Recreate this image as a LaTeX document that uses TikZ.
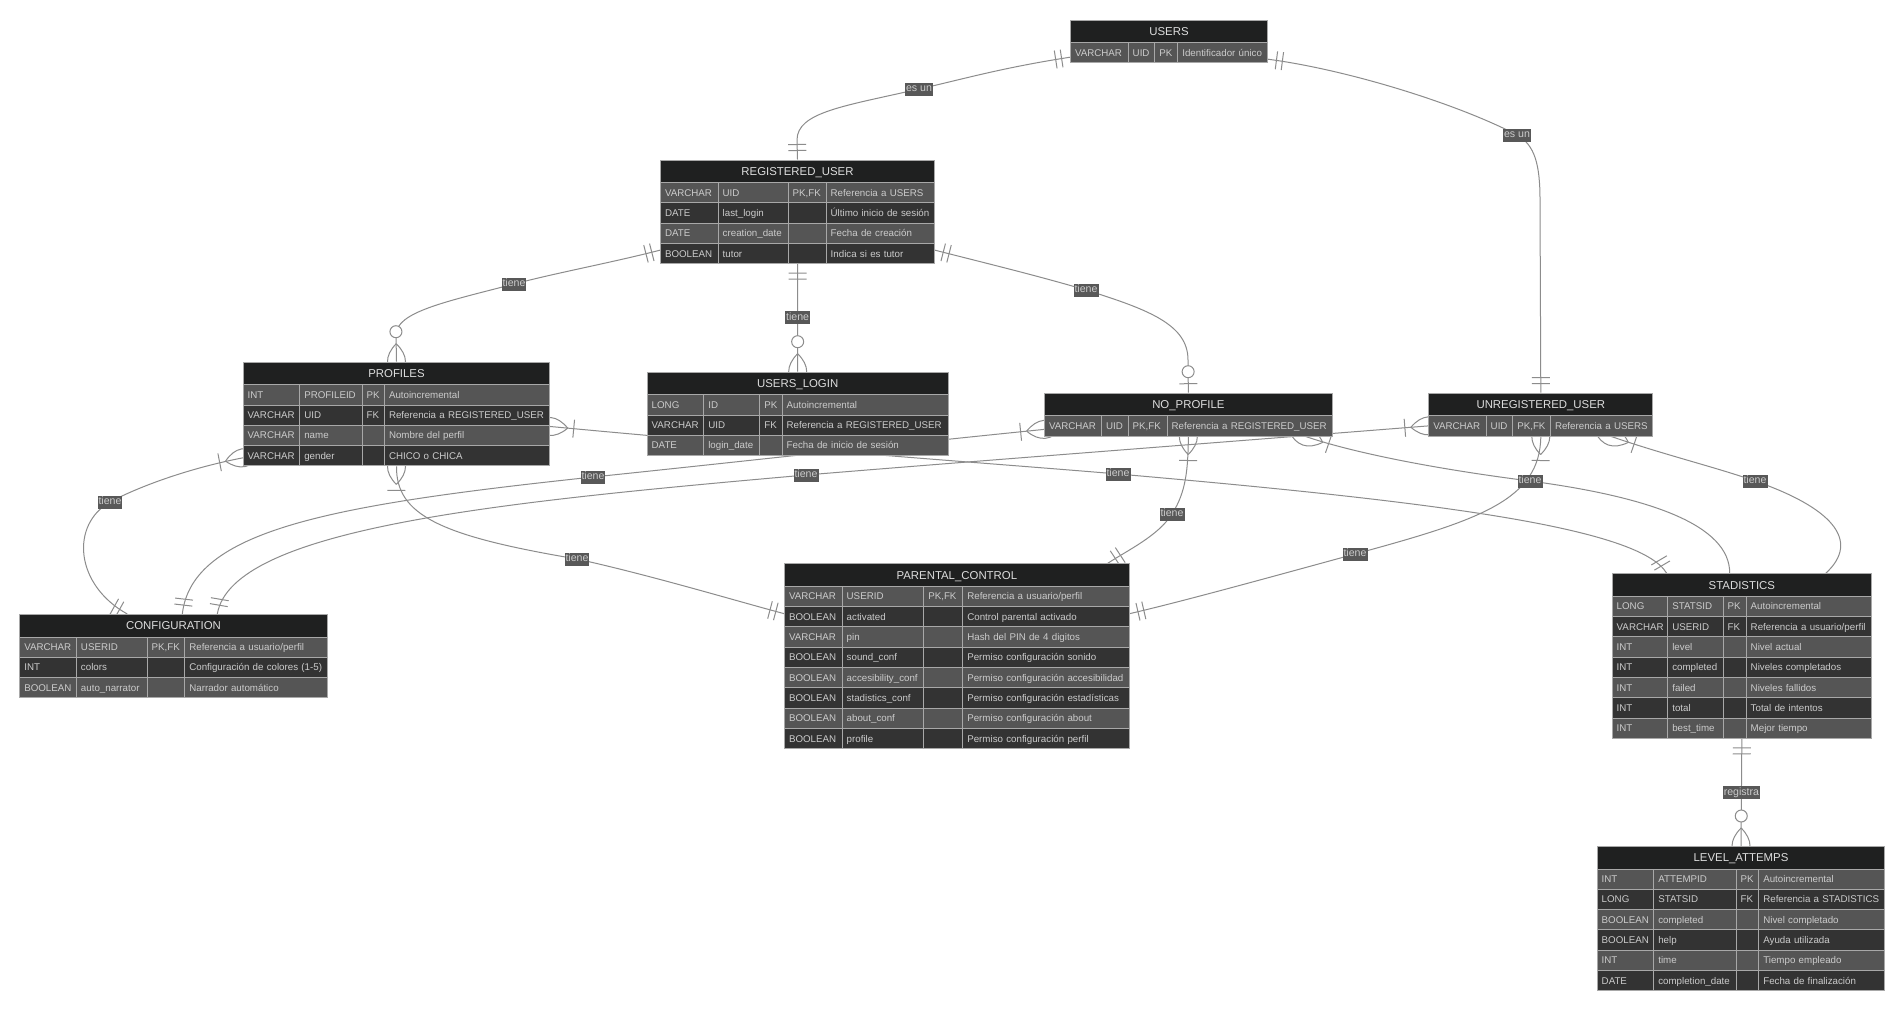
\documentclass[tikz,border=0pt]{standalone}
\usepackage{fontspec}
\setmainfont{Liberation Sans}
\usetikzlibrary{matrix,backgrounds,decorations.markings}

\definecolor{erhead}{HTML}{1F2020}
\definecolor{erodd}{HTML}{555555}
\definecolor{ereven}{HTML}{333333}
\definecolor{erborder}{HTML}{A8A8A8}
\definecolor{ertext}{HTML}{CCCCCC}
\definecolor{ertitletext}{HTML}{DDDDDD}
\definecolor{erline}{HTML}{8C8C8C}
\definecolor{erlabel}{HTML}{585858}

\tikzset{
  ertitle/.style={draw=erborder, fill=erhead, text=ertitletext, line width=1pt,
    font=\fontsize{11.4}{13}\selectfont, minimum height=22.5pt, inner sep=0pt,
    text height=8.3pt, text depth=0pt, anchor=north west},
  ertable/.style={matrix of nodes, nodes in empty cells, anchor=north west,
    inner sep=0pt, outer sep=0pt, row sep=-1pt, column sep=-1pt,
    nodes={draw=erborder, line width=1pt, text=ertext, font=\fontsize{9.75}{11}\selectfont,
      align=left, inner xsep=4.5pt, inner ysep=5.65pt, text height=8pt, text depth=1pt},
    every odd row/.style={nodes={fill=erodd}},
    every even row/.style={nodes={fill=ereven}}},
  cols/.style n args={4}{column 1/.style={nodes={text width=#1}},
    column 2/.style={nodes={text width=#2}}, column 3/.style={nodes={text width=#3}},
    column 4/.style={nodes={text width=#4}}},
  rel/.style={draw=erline, line width=1pt},
  lbl/.style={fill=erlabel, text=ertext, font=\fontsize{10.6}{12}\selectfont,
    inner xsep=1pt, inner ysep=1.5pt, text height=7.8pt, text depth=2.2pt},
  % marcas de cardinalidad
  oneS/.style={postaction={decorate, decoration={markings, mark=at position 0 with
    {\draw[erline, line width=1pt] (9pt,-9pt) -- (9pt,9pt) (15pt,-9pt) -- (15pt,9pt);}}}},
  oneE/.style={postaction={decorate, decoration={markings, mark=at position 1 with
    {\draw[erline, line width=1pt] (-9pt,-9pt) -- (-9pt,9pt) (-15pt,-9pt) -- (-15pt,9pt);}}}},
  manyS/.style={postaction={decorate, decoration={markings, mark=at position 0 with
    {\draw[erline, line width=1pt] (18pt,0pt) .. controls (6pt,12pt) and (-6pt,12pt) .. (-18pt,0pt)
       (18pt,0pt) .. controls (6pt,-12pt) and (-6pt,-12pt) .. (-18pt,0pt)
       (24pt,-9pt) -- (24pt,9pt);}}}},
  zmanyE/.style={postaction={decorate, decoration={markings, mark=at position 1 with
    {\draw[erline, line width=1pt] (-18pt,0pt) .. controls (-6pt,12pt) and (6pt,12pt) .. (18pt,0pt)
       (-18pt,0pt) .. controls (-6pt,-12pt) and (6pt,-12pt) .. (18pt,0pt);
     \filldraw[draw=erline, fill=white, line width=1pt] (-30pt,0pt) circle (6pt);}}}},
  zoneE/.style={postaction={decorate, decoration={markings, mark=at position 1 with
    {\draw[erline, line width=1pt] (-9pt,-9pt) -- (-9pt,9pt);
     \filldraw[draw=erline, fill=white, line width=1pt] (-21pt,0pt) circle (6pt);}}}}
}

\begin{document}
\begin{tikzpicture}[x=1pt, y=-1pt]
\useasboundingbox (0,0) rectangle (1904,1010);

% tabla USERS
\node[ertitle, minimum width=197pt] (users) at (1070,19.5) {USERS};
\matrix (usersR) [ertable, cols={48.7pt}{17.6pt}{14pt}{80.7pt}] at ([yshift=1pt]users.south west) {
  VARCHAR & UID & PK & Identificador único \\
};

% tabla REGISTERED_USER
\node[ertitle, minimum width=274pt] (reg) at (660,159.5) {REGISTERED\_USER};
\matrix (regR) [ertable, cols={48.7pt}{61pt}{29pt}{99.3pt}] at ([yshift=1pt]reg.south west) {
  VARCHAR & UID & PK,FK & Referencia a USERS \\
  DATE & last\_login & & Último inicio de sesión \\
  DATE & creation\_date & & Fecha de creación \\
  BOOLEAN & tutor & & Indica si es tutor \\
};

% tabla PROFILES
\node[ertitle, minimum width=306.6pt] (prof) at (242.7,361.7) {PROFILES};
\matrix (profR) [ertable, cols={47.6pt}{53.4pt}{13.3pt}{156.3pt}] at ([yshift=1pt]prof.south west) {
  INT & PROFILEID & PK & Autoincremental \\
  VARCHAR & UID & FK & Referencia a REGISTERED\_USER \\
  VARCHAR & name & & Nombre del perfil \\
  VARCHAR & gender & & CHICO o CHICA \\
};

% tabla USERS_LOGIN
\node[ertitle, minimum width=301pt] (login) at (646.7,371.7) {USERS\_LOGIN};
\matrix (loginR) [ertable, cols={47.6pt}{47pt}{13.4pt}{157pt}] at ([yshift=1pt]login.south west) {
  LONG & ID & PK & Autoincremental \\
  VARCHAR & UID & FK & Referencia a REGISTERED\_USER \\
  DATE & login\_date & & Fecha de inicio de sesión \\
};

% tabla NO_PROFILE
\node[ertitle, minimum width=287.7pt] (noprof) at (1044,392.7) {NO\_PROFILE};
\matrix (noprofR) [ertable, cols={48pt}{17.7pt}{30pt}{156pt}] at ([yshift=1pt]noprof.south west) {
  VARCHAR & UID & PK,FK & Referencia a REGISTERED\_USER \\
};

% tabla UNREGISTERED_USER
\node[ertitle, minimum width=224pt] (unreg) at (1428.3,392.7) {UNREGISTERED\_USER};
\matrix (unregR) [ertable, cols={48.4pt}{17.6pt}{28.7pt}{93.3pt}] at ([yshift=1pt]unreg.south west) {
  VARCHAR & UID & PK,FK & Referencia a USERS \\
};

% tabla CONFIGURATION
\node[ertitle, minimum width=307.4pt] (conf) at (19.3,614) {CONFIGURATION};
\matrix (confR) [ertable, cols={47.7pt}{61.7pt}{28.6pt}{133.4pt}] at ([yshift=1pt]conf.south west) {
  VARCHAR & USERID & PK,FK & Referencia a usuario/perfil \\
  INT & colors & & Configuración de colores (1-5) \\
  BOOLEAN & auto\_narrator & & Narrador automático \\
};

% tabla PARENTAL_CONTROL
\node[ertitle, minimum width=344.7pt] (parent) at (784,563.3) {PARENTAL\_CONTROL};
\matrix (parentR) [ertable, cols={48.7pt}{72.6pt}{30pt}{157.4pt}] at ([yshift=1pt]parent.south west) {
  VARCHAR & USERID & PK,FK & Referencia a usuario/perfil \\
  BOOLEAN & activated & & Control parental activado \\
  VARCHAR & pin & & Hash del PIN de 4 digitos \\
  BOOLEAN & sound\_conf & & Permiso configuración sonido \\
  BOOLEAN & accesibility\_conf & & Permiso configuración accesibilidad \\
  BOOLEAN & stadistics\_conf & & Permiso configuración estadísticas \\
  BOOLEAN & about\_conf & & Permiso configuración about \\
  BOOLEAN & profile & & Permiso configuración perfil \\
};

% tabla STADISTICS
\node[ertitle, minimum width=259.3pt] (stats) at (1611.7,573.3) {STADISTICS};
\matrix (statsR) [ertable, cols={46.6pt}{46.4pt}{14pt}{116.3pt}] at ([yshift=1pt]stats.south west) {
  LONG & STATSID & PK & Autoincremental \\
  VARCHAR & USERID & FK & Referencia a usuario/perfil \\
  INT & level & & Nivel actual \\
  INT & completed & & Niveles completados \\
  INT & failed & & Niveles fallidos \\
  INT & total & & Total de intentos \\
  INT & best\_time & & Mejor tiempo \\
};

% tabla LEVEL_ATTEMPS
\node[ertitle, minimum width=287.6pt] (attempts) at (1596.7,846) {LEVEL\_ATTEMPS};
\matrix (attemptsR) [ertable, cols={47.6pt}{73.4pt}{13.6pt}{117pt}] at ([yshift=1pt]attempts.south west) {
  INT & ATTEMPID & PK & Autoincremental \\
  LONG & STATSID & FK & Referencia a STADISTICS \\
  BOOLEAN & completed & & Nivel completado \\
  BOOLEAN & help & & Ayuda utilizada \\
  INT & time & & Tiempo empleado \\
  DATE & completion\_date & & Fecha de finalización \\
};

\begin{scope}[on background layer]
\fill[white] (0,0) rectangle (1904,1010);
% USERS - REGISTERED_USER
\draw[rel, oneS, oneE] ([yshift=-4.5pt]usersR-1-1.west) .. controls (1000,68) and (960,80) .. (919,89) coordinate (m1)
  .. controls (845,106) and (797,112) .. (797,140) -- (reg.north);
% USERS - UNREGISTERED_USER
\draw[rel, oneS, oneE] ([yshift=-6.5pt]usersR-1-4.east) .. controls (1350,70) and (1460,105) .. (1517,135) coordinate (m2)
  .. controls (1535,145) and (1540,165) .. (1540,200) -- (unreg.north);
% REGISTERED_USER - PROFILES
\draw[rel, oneS, zmanyE] ([yshift=3.5pt]regR-4-1.west) .. controls (610,263) and (560,272) .. (514,284) coordinate (m3)
  .. controls (445,302) and (396,312) .. (396,335) -- (prof.north);
% REGISTERED_USER - USERS_LOGIN
\draw[rel, oneS, zmanyE] (regR.south) -- coordinate[pos=0.5] (m4) (login.north);
% REGISTERED_USER - NO_PROFILE
\draw[rel, oneS, zoneE] ([yshift=3.5pt]regR-4-4.east) .. controls (985,263) and (1035,275) .. (1086,290) coordinate (m5)
  .. controls (1150,310) and (1188,325) .. (1188,360) -- (noprof.north);
% PROFILES - STADISTICS
\draw[rel, manyS, oneE] ([yshift=9pt]profR-3-4.east) .. controls (800,450) and (1000,464) .. (1118,474) coordinate (m6)
  .. controls (1440,502) and (1640,528) .. ([xshift=55pt]stats.north west);
% PROFILES - CONFIGURATION
\draw[rel, manyS, oneE] ([yshift=-2pt]profR-4-1.west) .. controls (190,468) and (140,486) .. (110,502) coordinate (m7)
  .. controls (70,525) and (75,585) .. ([xshift=108pt]conf.north west);
% PROFILES - PARENTAL_CONTROL
\draw[rel, manyS, oneE] (profR.south) .. controls (396,515) and (440,536) .. (577,559) coordinate (m8)
  .. controls (650,575) and (740,602) .. ([yshift=3pt]parentR-2-1.west);
% NO_PROFILE - CONFIGURATION
\draw[rel, manyS, oneE] ([yshift=-3.5pt]noprofR-1-1.west) .. controls (880,446) and (700,466) .. (593,477) coordinate (m9)
  .. controls (330,505) and (192,530) .. ([xshift=163pt]conf.north west);
% UNREGISTERED_USER - CONFIGURATION
\draw[rel, manyS, oneE] (unregR-1-1.west) .. controls (1200,444) and (950,463) .. (806,475) coordinate (m10)
  .. controls (500,502) and (232,528) .. ([xshift=198pt]conf.north west);
% NO_PROFILE - PARENTAL_CONTROL
\draw[rel, manyS, oneE] (noprofR.south) .. controls (1188,470) and (1186,492) .. (1172,514) coordinate (m11)
  .. controls (1158,536) and (1128,550) .. ([xshift=-22pt]parent.north east);
% NO_PROFILE - STADISTICS
\draw[rel, manyS, oneE] ([xshift=-27pt]noprofR.south east) .. controls (1345,450) and (1420,467) .. (1530,481) coordinate (m12)
  .. controls (1650,497) and (1730,525) .. ([xshift=118pt]stats.north west);
% UNREGISTERED_USER - PARENTAL_CONTROL
\draw[rel, manyS, oneE] (unregR.south) .. controls (1540,500) and (1480,520) .. (1355,554) coordinate (m13)
  .. controls (1260,580) and (1180,602) .. ([yshift=3pt]parentR-2-4.east);
% UNREGISTERED_USER - STADISTICS
\draw[rel, manyS, oneE] ([xshift=-42pt]unregR.south east) .. controls (1665,455) and (1715,467) .. (1755,481) coordinate (m14)
  .. controls (1830,507) and (1862,540) .. ([xshift=214pt]stats.north west);
% STADISTICS - LEVEL_ATTEMPS
\draw[rel, oneS, zmanyE] (statsR.south) -- coordinate[pos=0.5] (m15) (attempts.north);

% etiquetas de las relaciones
\node[lbl] (esun1) at (m1) {es un};
\node[lbl] (esun2) at (m2) {es un};
\node[lbl] (tiene1) at (m3) {tiene};
\node[lbl] (tiene2) at (m4) {tiene};
\node[lbl] (tiene3) at (m5) {tiene};
\node[lbl] (tiene4) at (m6) {tiene};
\node[lbl] (tiene5) at (m7) {tiene};
\node[lbl] (tiene6) at (m8) {tiene};
\node[lbl] (tiene7) at (m9) {tiene};
\node[lbl] (tiene8) at (m10) {tiene};
\node[lbl] (tiene9) at (m11) {tiene};
\node[lbl] (tiene10) at (m12) {tiene};
\node[lbl] (tiene11) at (m13) {tiene};
\node[lbl] (tiene12) at (m14) {tiene};
\node[lbl] (registra) at (m15) {registra};
\end{scope}
\end{tikzpicture}
\end{document}
